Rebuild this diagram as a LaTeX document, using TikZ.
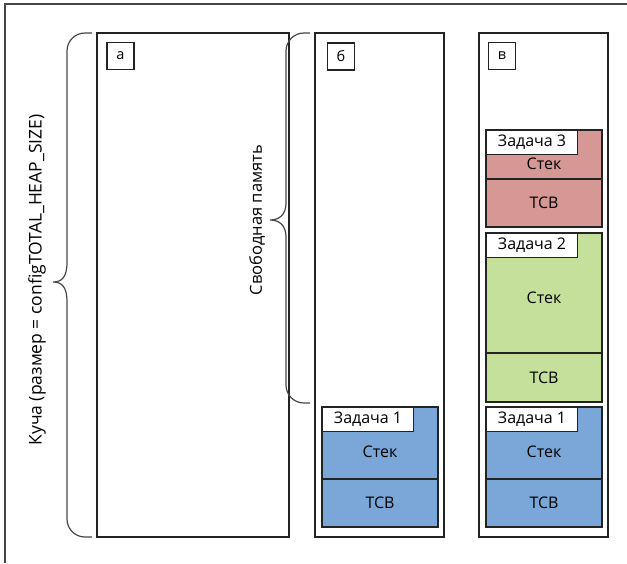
\documentclass[tikz,border=0pt]{standalone}
\usepackage{fontspec}
\setmainfont{Open Sans}
\definecolor{tskblue}{RGB}{123,166,216}
\definecolor{tskred}{RGB}{214,152,148}
\definecolor{tskgreen}{RGB}{197,224,155}
\definecolor{edgeclr}{RGB}{35,35,35}
\definecolor{frameclr}{RGB}{70,70,70}
\tikzset{
  colbox/.style={draw=edgeclr, line width=1.2pt, fill=white, inner sep=0pt},
  tagbox/.style={draw=edgeclr, line width=1.1pt, fill=white, inner sep=0pt,
    minimum width=27pt, minimum height=27pt, font=\fontsize{14.5}{16}\selectfont},
  blkline/.style={draw=edgeclr, line width=1.2pt},
  titlebox/.style={draw=edgeclr, line width=1.1pt, fill=white, inner sep=0pt,
    minimum width=91pt, minimum height=24pt, anchor=north west,
    font=\fontsize{16}{18}\selectfont},
  celltext/.style={inner sep=0pt, font=\fontsize{16}{18}\selectfont},
  bracestyle/.style={draw=frameclr, line width=1.2pt},
  sidelabel/.style={rotate=90, inner sep=0pt, font=\fontsize{16.5}{18}\selectfont},
}
% #1 name, #2 left, #3 top, #4 right, #5 divider, #6 bottom, #7 stack label y, #8 fill, #9 title
\newcommand\taskblock[9]{%
  \path[blkline, fill=#8] (#2,#3) rectangle (#4,#6);
  \path[blkline] (#2,#5) -- (#4,#5);
  \node[titlebox] (#1title) at (#2,#3) {#9};
  \node[celltext] (#1stack) at ({(#2+#4)/2},#7) {Стек};
  \node[celltext] (#1tcb) at ({(#2+#4)/2},{(#5+#6)/2}) {TCB};
}
\begin{document}
\begin{tikzpicture}[x=1pt, y=-1pt]
\useasboundingbox (0,0) rectangle (627,563);

% outer frame edges
\draw[frameclr, line width=1.3pt] (5,563) -- (5,4) -- (627,4);

% heap columns
\node[colbox, minimum width=192pt, minimum height=504pt] (cola) at (193,285) {};
\node[colbox, minimum width=129pt, minimum height=504pt] (colb) at (379.5,285) {};
\node[colbox, minimum width=129pt, minimum height=504pt] (colc) at (543.5,285) {};

% column tags
\node[tagbox] (taga) at (120.5,56) {а};
\node[tagbox] (tagb) at (341,56.5) {б};
\node[tagbox] (tagc) at (502,56) {в};

% brace spanning the whole heap
\draw[bracestyle] (92,33) -- (85,33) .. controls (75,33) and (67,41) .. (67,51)
  -- (67,262) .. controls (67,277) and (62,282) .. (53,282)
  .. controls (62,282) and (67,287) .. (67,302)
  -- (67,519) .. controls (67,529) and (75,537) .. (85,537) -- (92,537);
\node[sidelabel, font=\fontsize{17.5}{19}\selectfont] (heaplabel) at (37,280)
  {Куча (размер = configTOTAL\_HEAP\_SIZE)};

% brace over the free memory
\draw[bracestyle] (310,33) -- (304,33) .. controls (294,33) and (286,41) .. (286,51)
  -- (286,203) .. controls (286,215) and (279,220) .. (270,220)
  .. controls (279,220) and (286,225) .. (286,237)
  -- (286,385) .. controls (286,395) and (294,403) .. (304,403) -- (310,403);
\node[sidelabel] (freelabel) at (257,220) {Свободная память};

% task blocks
\taskblock{bone}{322}{407}{438}{479}{527}{452}{tskblue}{Задача 1}
\taskblock{cone}{486}{407}{602}{479}{527}{452}{tskblue}{Задача 1}
\taskblock{ctwo}{486}{233}{602}{353}{402}{298}{tskgreen}{Задача 2}
\taskblock{cthree}{486}{130}{602}{179}{227}{164}{tskred}{Задача 3}
\end{tikzpicture}
\end{document}
